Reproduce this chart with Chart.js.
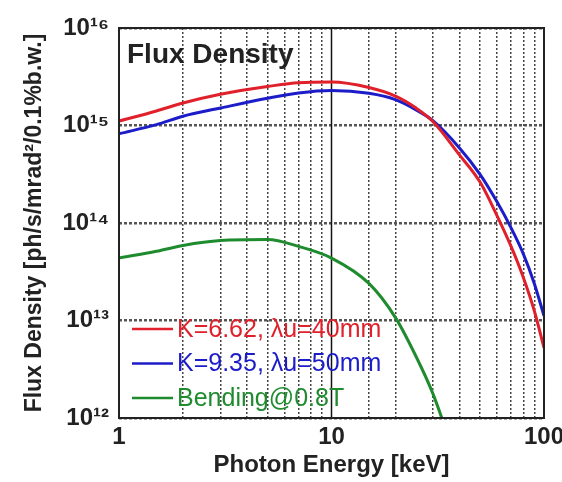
<!DOCTYPE html>
<html>
<head>
<meta charset="utf-8">
<script src="https://cdn.jsdelivr.net/npm/chart.js@4.4.0/dist/chart.umd.min.js"></script>
<style>
  html, body { margin: 0; padding: 0; background: #fff; }
  #wrap { width: 562px; height: 482px; }
</style>
</head>
<body>
<div id="wrap"><canvas id="fluxChart"></canvas></div>
<script>
// -------------------------------
// DATA
// -------------------------------
const energies = [1, 1.5, 2, 3, 5, 7, 10, 15, 20, 25, 30, 40, 50, 60, 70, 80, 90, 100];

const fluxK662 = [1.11e15, 1.41e15, 1.70e15, 2.09e15, 2.51e15, 2.75e15, 2.79e15, 2.45e15, 2.00e15, 1.51e15,
                  1.10e15, 5.0e14, 2.63e14, 1.20e14, 5.75e13, 2.75e13, 1.26e13, 5.25e12];
const fluxK935 = [8.22e14, 1.02e15, 1.245e15, 1.51e15, 1.905e15, 2.16e15, 2.29e15, 2.14e15, 1.84e15, 1.445e15,
                  1.12e15, 5.89e14, 3.16e14, 1.66e14, 8.9e13, 4.8e13, 2.4e13, 1.12e13];

const bendEnergies = [1, 1.5, 2, 3, 5, 7, 10, 15, 20, 25, 30, 35];
const fluxBend = [4.37e13, 5.13e13, 5.89e13, 6.61e13, 6.76e13, 5.75e13, 4.37e13, 2.40e13, 1.07e13, 4.27e12, 1.78e12, 7.0e11];

const seriesNames = ["K=6.62, \u03bbu=40mm", "K=9.35, \u03bbu=50mm", "Bending@0.8T"];
const seriesColors = ["#e0202a", "#1c1cc8", "#1e8c2e"];

const xTickLabels = { 0: "1", 1: "10", 2: "100" };
const yTickLabels = { 12: "10\u00b9\u00b2", 13: "10\u00b9\u00b3", 14: "10\u00b9\u2074", 15: "10\u00b9\u2075", 16: "10\u00b9\u2076" };

const FONT = "'Liberation Sans', Arial, sans-serif";

function toPoints(xs, ys) {
    return xs.map((x, i) => ({ x: x, y: ys[i] }));
}
function decade(v) {
    const e = Math.log10(v);
    return Math.abs(e - Math.round(e)) < 1e-6 ? Math.round(e) : null;
}

// -------------------------------
// PLUGIN: frame, solid line at 10 keV, inner title, legend
// -------------------------------
const decorPlugin = {
    id: "decor",
    beforeDatasetsDraw(chart) {
        const { ctx, chartArea, scales } = chart;
        const x10 = scales.x.getPixelForValue(10);
        ctx.save();
        ctx.strokeStyle = "#111";
        ctx.lineWidth = 1.5;
        ctx.beginPath();
        ctx.moveTo(x10, chartArea.top);
        ctx.lineTo(x10, chartArea.bottom);
        ctx.stroke();
        ctx.restore();
    },
    afterDraw(chart) {
        const { ctx, chartArea } = chart;
        ctx.save();
        ctx.strokeStyle = "#222";
        ctx.lineWidth = 2;
        ctx.strokeRect(chartArea.left, chartArea.top, chartArea.right - chartArea.left, chartArea.bottom - chartArea.top);

        ctx.fillStyle = "#222";
        ctx.font = "bold 28px " + FONT;
        ctx.textBaseline = "alphabetic";
        ctx.textAlign = "left";
        ctx.fillText("Flux Density", chartArea.left + 8, chartArea.top + 35);

        // legend sits inside the plot, bottom left
        ctx.font = "25px " + FONT;
        ctx.textBaseline = "middle";
        chart.data.datasets.forEach((ds, i) => {
            const y = 329 + i * 34.5;
            ctx.strokeStyle = ds.borderColor;
            ctx.lineWidth = 2.5;
            ctx.beginPath();
            ctx.moveTo(chartArea.left + 13, y);
            ctx.lineTo(chartArea.left + 54, y);
            ctx.stroke();
            ctx.fillStyle = ds.borderColor;
            ctx.fillText(ds.label, chartArea.left + 58, y + 1);
        });
        ctx.restore();
    }
};

// -------------------------------
// CHART
// -------------------------------
const ctx = document.getElementById("fluxChart").getContext("2d");

const lineStyle = { borderWidth: 3, pointRadius: 0, fill: false, cubicInterpolationMode: "monotone" };

new Chart(ctx, {
    type: "line",
    data: {
        datasets: [
            { label: seriesNames[0], data: toPoints(energies, fluxK662), borderColor: seriesColors[0], ...lineStyle },
            { label: seriesNames[1], data: toPoints(energies, fluxK935), borderColor: seriesColors[1], ...lineStyle },
            { label: seriesNames[2], data: toPoints(bendEnergies, fluxBend), borderColor: seriesColors[2], ...lineStyle }
        ]
    },
    options: {
        responsive: true,
        maintainAspectRatio: false,
        animation: false,
        layout: { padding: { top: 28, right: 18, left: 0, bottom: 0 } },
        plugins: { legend: { display: false }, tooltip: { enabled: false } },
        scales: {
            x: {
                type: "logarithmic",
                min: 1,
                max: 100,
                afterFit: s => { s.height = 64; s.paddingLeft = 0; s.paddingRight = 0; },
                border: { display: false, dash: [2, 2] },
                grid: {
                    drawTicks: false,
                    color: c => (decade(c.tick.value) !== null ? "rgba(0,0,0,0)" : "#444"),
                    lineWidth: 1.5
                },
                ticks: {
                    autoSkip: false,
                    maxRotation: 0,
                    padding: 5,
                    color: "#222",
                    font: { family: FONT, size: 24, weight: "bold" },
                    callback: v => { const d = decade(v); return d !== null && xTickLabels[d] ? xTickLabels[d] : ""; }
                },
                title: {
                    display: true,
                    text: "Photon Energy [keV]",
                    color: "#222",
                    font: { family: FONT, size: 24, weight: "bold" },
                    padding: { top: 0, bottom: 2 }
                }
            },
            y: {
                type: "logarithmic",
                min: 1e12,
                max: 1e16,
                afterFit: s => { s.width = 119; s.paddingTop = 0; s.paddingBottom = 0; },
                border: { display: false, dash: [3, 2] },
                grid: {
                    drawTicks: false,
                    color: c => (decade(c.tick.value) !== null ? "#555" : "rgba(0,0,0,0)"),
                    lineWidth: 2.5
                },
                ticks: {
                    autoSkip: false,
                    padding: 10,
                    color: "#222",
                    font: { family: FONT, size: 24, weight: "bold" },
                    callback: v => { const d = decade(v); return d !== null && yTickLabels[d] ? yTickLabels[d] : ""; }
                },
                title: {
                    display: true,
                    text: "Flux Density [ph/s/mrad\u00b2/0.1%b.w.]",
                    color: "#222",
                    font: { family: FONT, size: 23, weight: "bold" },
                    padding: { top: 21, bottom: 0 }
                }
            }
        }
    },
    plugins: [decorPlugin]
});
</script>
</body>
</html>
